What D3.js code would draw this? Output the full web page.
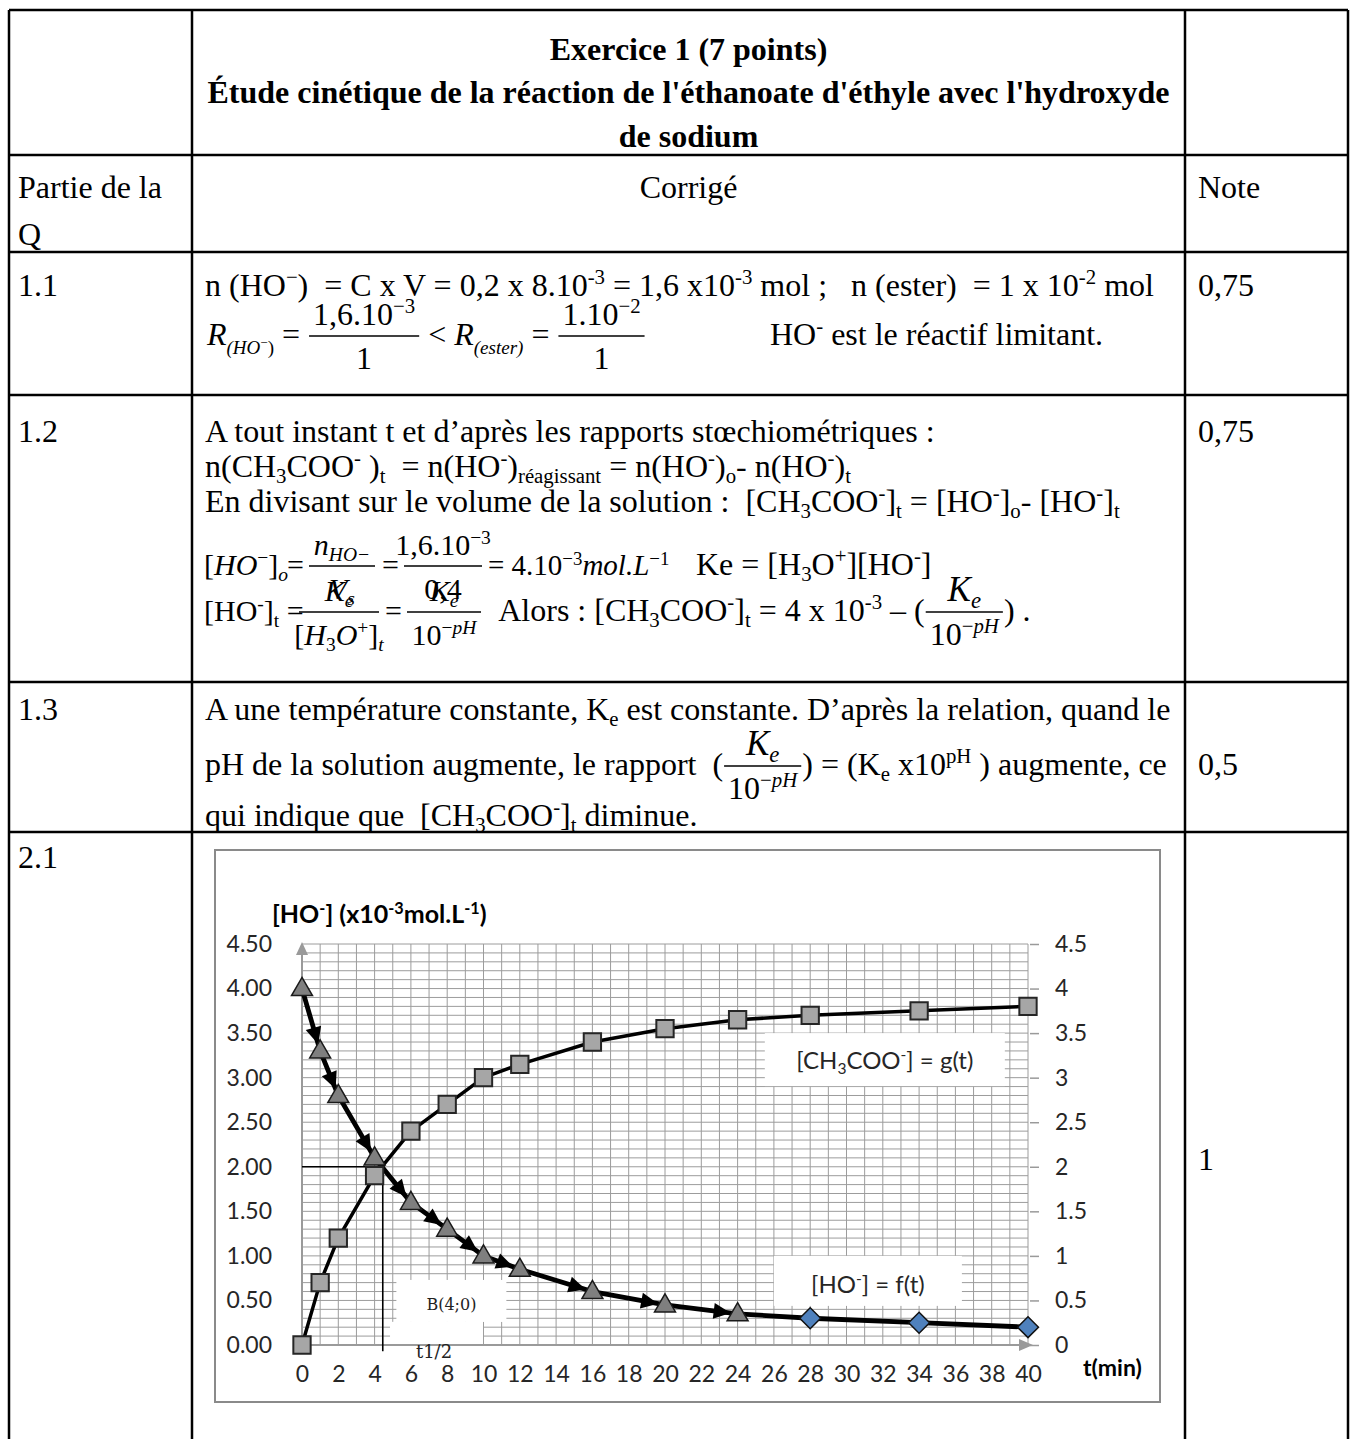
<!DOCTYPE html>
<html><head><meta charset="utf-8">
<script src="https://cdn.jsdelivr.net/npm/d3@7"></script>
<style>body{margin:0;background:#fff}svg{display:block}</style>
</head><body><div id="page"></div>
<script>
// ---------------- data ----------------
const times = [0, 1, 2, 4, 6, 8, 10, 12, 16, 20, 24, 28, 34, 40];
const hoValues = [4, 3.3, 2.8, 2.1, 1.6, 1.3, 1, 0.85, 0.6, 0.45, 0.35, 0.3, 0.25, 0.2];
const acetateValues = [0, 0.7, 1.2, 1.9, 2.4, 2.7, 3, 3.15, 3.4, 3.55, 3.65, 3.7, 3.75, 3.8];
const triangleLastTime = 24;               // HO- points drawn as triangles up to this time, diamonds after
const leftTickLabels = ["0.00","0.50","1.00","1.50","2.00","2.50","3.00","3.50","4.00","4.50"];
const rightTickLabels = ["0","0.5","1","1.5","2","2.5","3","3.5","4","4.5"];
const xTickLabels = ["0","2","4","6","8","10","12","14","16","18","20","22","24","26","28","30","32","34","36","38","40"];
const halfLife = {t: 4.45, c: 2.0};

// ---------------- setup ----------------
const W = 1356, H = 1439;
const SERIF = "'Liberation Serif','Times New Roman',serif";
const SANS = "Lato, Carlito, 'Open Sans', sans-serif";
const FS = 32;
const svg = d3.select('#page').append('svg').attr('width', W).attr('height', H);

// rich text: ^{..} superscript, _{..} subscript, * toggles italic
function rich(parent, x, y, str, o = {}) {
  const fs = o.fs || FS;
  const t = parent.append('text').attr('x', x).attr('y', y)
    .attr('font-family', o.font || SERIF).attr('font-size', fs)
    .attr('font-weight', o.b ? 'bold' : null)
    .attr('text-anchor', o.anchor || 'start').attr('fill', o.fill || '#000')
    .style('white-space', 'pre');
  let cur = 0, ital = !!o.it;
  str.split(/(\^\{[^}]*\}|_\{[^}]*\}|\*)/).filter(s => s.length).forEach(s => {
    if (s === '*') { ital = !ital; return; }
    let kind = 0, txt = s;
    if (s.startsWith('^{')) { kind = -1; txt = s.slice(2, -1); }
    else if (s.startsWith('_{')) { kind = 1; txt = s.slice(2, -1); }
    const target = kind === -1 ? -(o.supUp || 0.36) * fs : kind === 1 ? (o.subDn || 0.2) * fs : 0;
    txt.split('*').forEach((piece, k) => {
      if (k > 0) ital = !ital;
      if (!piece.length) return;
      const sp = t.append('tspan').attr('dy', target - cur).text(piece);
      cur = target;
      if (kind) sp.attr('font-size', fs * 0.65);
      if (ital) sp.attr('font-style', 'italic');
    });
  });
  return t;
}

// equation line layout: text items, fractions, absolute jumps
function eqLine(parent, x0, base, items) {
  let x = x0;
  items.forEach(it => {
    if (it.at !== undefined) { x = it.at; return; }
    if (it.gap) { x += it.gap; return; }
    if (it.frac) {
      const g = parent.append('g');
      const n = rich(g, 0, base - (it.nUp || 20), it.frac[0], {fs: it.nfs || it.fs, anchor: 'middle'});
      const d = rich(g, 0, base + (it.dDn || 24), it.frac[1], {fs: it.dfs || it.fs, anchor: 'middle'});
      const w = it.w || (Math.max(n.node().getComputedTextLength(), d.node().getComputedTextLength()) + 2 * (it.pad || 5));
      const cx = x + w / 2;
      n.attr('x', cx); d.attr('x', cx);
      g.append('line').attr('x1', x + 1).attr('x2', x + w - 1)
        .attr('y1', base - 9).attr('y2', base - 9).attr('stroke', '#000').attr('stroke-width', 1.4);
      x += w;
      return;
    }
    const t = rich(parent, x, base + (it.dy || 0), it.t, it);
    x += t.node().getComputedTextLength();
  });
}

// ---------------- table ----------------
const colX = [9, 192, 1185, 1348];
const rowY = [10, 155, 252, 395, 682, 832];
const tbl = svg.append('g');
colX.forEach(cx => tbl.append('line').attr('x1', cx).attr('x2', cx).attr('y1', rowY[0]).attr('y2', H)
  .attr('stroke', '#000').attr('stroke-width', 2.5));
rowY.forEach(ry => tbl.append('line').attr('x1', colX[0]).attr('x2', colX[3]).attr('y1', ry).attr('y2', ry)
  .attr('stroke', '#000').attr('stroke-width', 2.5));

const tx = svg.append('g');
const midX = (colX[1] + colX[2]) / 2;
rich(tx, midX, 60, 'Exercice 1 (7 points)', {b: true, anchor: 'middle'});
rich(tx, midX, 103, "Étude cinétique de la réaction de l'éthanoate d'éthyle avec l'hydroxyde", {b: true, anchor: 'middle'});
rich(tx, midX, 147, 'de sodium', {b: true, anchor: 'middle'});

rich(tx, 18, 198, 'Partie de la');
rich(tx, 18, 245, 'Q');
rich(tx, midX, 198, 'Corrigé', {anchor: 'middle'});
rich(tx, 1198, 198, 'Note');

// 1.1
rich(tx, 18, 296, '1.1');
rich(tx, 1198, 296, '0,75');
rich(tx, 205, 296, 'n (HO^{−})  = C x V = 0,2 x 8.10^{-3} = 1,6 x10^{-3} mol ;   n (ester)  = 1 x 10^{-2} mol');
eqLine(tx, 207, 345, [
  {t: '*R*'}, {t: '*(HO*', fs: 19, dy: 9}, {t: '−', fs: 13, dy: 2}, {t: ')', fs: 19, dy: 9},
  {t: ' = '}, {frac: ['1,6.10^{−3}', '1']}, {t: ' < '},
  {t: '*R*'}, {t: '*(ester)*', fs: 19, dy: 9}, {t: ' = '}, {frac: ['1.10^{−2}', '1']},
  {at: 770}, {t: 'HO^{-} est le réactif limitant.'}
]);

// 1.2
rich(tx, 18, 442, '1.2');
rich(tx, 1198, 442, '0,75');
rich(tx, 205, 442, 'A tout instant t et d’après les rapports stœchiométriques :');
rich(tx, 205, 477, 'n(CH_{3}COO^{-} )_{t}  = n(HO^{-})_{réagissant} = n(HO^{-})_{o}- n(HO^{-})_{t}');
rich(tx, 205, 512, 'En divisant sur le volume de la solution :  [CH_{3}COO^{-}]_{t} = [HO^{-}]_{o}- [HO^{-}]_{t}');
eqLine(tx, 204, 575, [
  {t: '[*HO*^{−}]_{*o*}', fs: 30}, {at: 287}, {t: '=', fs: 30},
  {at: 308}, {frac: ['*n*_{*HO−*}', '*V*_{*s*}'], fs: 30, w: 68}, {at: 382}, {t: '=', fs: 30},
  {at: 403}, {frac: ['1,6.10^{−3}', '0,4'], fs: 30, w: 80}, {at: 488}, {t: '= 4.10^{−3}*mol.L*^{−1}', fs: 29},
  {at: 696}, {t: 'Ke = [H_{3}O^{+}][HO^{-}]'}
]);
eqLine(tx, 204, 621, [
  {t: '[HO^{-}]_{t} =', fs: 30}, {at: 298}, {frac: ['*K*_{*e*}', '[*H*_{3}*O*^{+}]_{*t*}'], fs: 30, w: 82},
  {at: 385}, {t: '=', fs: 30}, {at: 406}, {frac: ['*K*_{*e*}', '10^{−*pH*}'], fs: 30, w: 76},
  {at: 492}, {t: ' Alors : [CH_{3}COO^{-}]_{t} = 4 x 10^{-3} – ('},
  {frac: ['*K*_{*e*}', '10^{−*pH*}'], nfs: 35}, {t: ') .'}
]);

// 1.3
rich(tx, 18, 720, '1.3');
rich(tx, 1198, 775, '0,5');
rich(tx, 205, 720, 'A une température constante, K_{e} est constante. D’après la relation, quand le');
eqLine(tx, 205, 775, [
  {t: 'pH de la solution augmente, le rapport  ('},
  {frac: ['*K*_{*e*}', '10^{−*pH*}'], nfs: 35}, {t: ') = (K_{e} x10^{pH} ) augmente, ce'}
]);
rich(tx, 205, 826, 'qui indique que  [CH_{3}COO^{-}]_{t} diminue.');

// 2.1
rich(tx, 18, 868, '2.1');
rich(tx, 1198, 1170, '1');

// ---------------- chart ----------------
const ch = svg.append('g');
ch.append('rect').attr('x', 215).attr('y', 850).attr('width', 945).attr('height', 552)
  .attr('fill', '#fff').attr('stroke', '#8a8a8a').attr('stroke-width', 2);

const x = d3.scaleLinear().domain([0, 40]).range([302, 1028]);
const y = d3.scaleLinear().domain([0, 4.5]).range([1345, 944]);

// grid
const grid = ch.append('g').attr('stroke', '#9c9c9c').attr('stroke-width', 1);
grid.selectAll('line.v').data(d3.range(1, 41)).join('line').attr('class', 'v')
  .attr('x1', d => x(d)).attr('x2', d => x(d)).attr('y1', y(0)).attr('y2', y(4.5));
grid.selectAll('line.h').data(d3.range(1, 46).map(i => i / 10)).join('line').attr('class', 'h')
  .attr('x1', x(0)).attr('x2', x(40)).attr('y1', d => y(d)).attr('y2', d => y(d));

// text boxes (white, hide grid)
const boxes = ch.append('g');
boxes.append('rect').attr('x', x(25.5)).attr('y', y(3.5)).attr('width', 240).attr('height', 53).attr('fill', '#fff');
boxes.append('rect').attr('x', x(26)).attr('y', y(1.0)).attr('width', 188).attr('height', 50).attr('fill', '#fff');
boxes.append('rect').attr('x', x(5.2)).attr('y', y(0.73)).attr('width', 110).attr('height', 42).attr('fill', '#fff');
boxes.append('rect').attr('x', x(4.85)).attr('y', y(0.26)).attr('width', 93).attr('height', 40).attr('fill', '#fff');

// axes
const axisCol = '#9a9a9a';
ch.append('line').attr('x1', x(0)).attr('x2', x(0)).attr('y1', y(0)).attr('y2', y(4.5) + 8)
  .attr('stroke', axisCol).attr('stroke-width', 2);
ch.append('path').attr('d', `M${x(0)},${y(4.5) - 2} l-6,13 l12,0 z`).attr('fill', axisCol);
ch.append('line').attr('x1', x(0)).attr('x2', x(40) - 6).attr('y1', y(0)).attr('y2', y(0))
  .attr('stroke', axisCol).attr('stroke-width', 2);
ch.append('path').attr('d', `M${x(40) + 5},${y(0)} l-14,-6 l0,12 z`).attr('fill', axisCol);

const axStyle = g => {
  g.select('.domain').remove();
  g.attr('font-family', SANS).attr('font-size', 23);
  g.selectAll('text').attr('fill', '#262626');
  g.selectAll('.tick line').attr('stroke', axisCol).attr('stroke-width', 1.5);
};
ch.append('g').attr('transform', `translate(${x(0)},0)`)
  .call(d3.axisLeft(y).tickValues(leftTickLabels.map(Number)).tickFormat((d, i) => leftTickLabels[i]).tickSize(0).tickPadding(30))
  .call(axStyle);
ch.append('g').attr('transform', `translate(${x(40) + 2},0)`)
  .call(d3.axisRight(y).tickValues(rightTickLabels.map(Number)).tickFormat((d, i) => rightTickLabels[i]).tickSize(9).tickPadding(16))
  .call(axStyle);
ch.append('g').attr('transform', `translate(0,${y(0)})`)
  .call(d3.axisBottom(x).tickValues(xTickLabels.map(Number)).tickFormat((d, i) => xTickLabels[i]).tickSize(0).tickPadding(21))
  .call(axStyle);

rich(ch, 272, 923, '[HO^{-}] (x10^{-3}mol.L^{-1})', {font: SANS, fs: 25, b: true});
rich(ch, 1083, 1376, 't(min)', {font: SANS, fs: 23, b: true});

// box labels
rich(ch, x(25.5) + 120, y(3.5) + 36, '[CH_{3}COO^{-}] = g(t)', {font: SANS, fs: 24, anchor: 'middle', fill: '#262626'});
rich(ch, x(26) + 94, y(1.0) + 37, '[HO^{-}] = f(t)', {font: SANS, fs: 24, anchor: 'middle', fill: '#262626'});
rich(ch, x(5.2) + 55, y(0.73) + 30, 'B(4;0)', {font: "'DejaVu Serif',serif", fs: 16, anchor: 'middle', fill: '#222'});
rich(ch, x(4.85) + 44, y(0.26) + 36, 't1/2', {font: "'DejaVu Serif',serif", fs: 18, anchor: 'middle', fill: '#222'});

// half-life construction lines
ch.append('line').attr('x1', x(0)).attr('x2', x(halfLife.t)).attr('y1', y(halfLife.c)).attr('y2', y(halfLife.c))
  .attr('stroke', '#000').attr('stroke-width', 1.6);
ch.append('line').attr('x1', x(halfLife.t)).attr('x2', x(halfLife.t)).attr('y1', y(halfLife.c)).attr('y2', y(-0.07))
  .attr('stroke', '#000').attr('stroke-width', 1.6);

// series
const acetPts = times.map((t, i) => [x(t), y(acetateValues[i])]);
const hoPts = times.map((t, i) => [x(t), y(hoValues[i])]);
ch.append('path').attr('d', d3.line()(acetPts)).attr('fill', 'none').attr('stroke', '#000')
  .attr('stroke-width', 3.5).attr('stroke-linejoin', 'round');
ch.append('path').attr('d', d3.line()(hoPts)).attr('fill', 'none').attr('stroke', '#000')
  .attr('stroke-width', 4.8).attr('stroke-linejoin', 'round');

// arrowheads on HO- segments ending at triangle points
const arrows = [];
for (let i = 1; i < times.length; i++) {
  if (times[i] > triangleLastTime) break;
  const [x0, y0] = hoPts[i - 1], [x1, y1] = hoPts[i];
  const L = Math.hypot(x1 - x0, y1 - y0), ux = (x1 - x0) / L, uy = (y1 - y0) / L;
  const tipX = x1 - ux * 7, tipY = y1 - uy * 7, bx = tipX - ux * 17, by = tipY - uy * 17;
  arrows.push(`M${tipX},${tipY} L${bx - uy * 8},${by + ux * 8} L${bx + uy * 8},${by - ux * 8} Z`);
}
ch.selectAll('path.arr').data(arrows).join('path').attr('class', 'arr').attr('d', d => d).attr('fill', '#000');

const tri = d3.symbol().type(d3.symbolTriangle).size(190)();
const sq = d3.symbol().type(d3.symbolSquare).size(300)();
const dia = d3.symbol().type(d3.symbolSquare).size(220)();
const hoData = times.map((t, i) => ({t, v: hoValues[i]}));
ch.selectAll('path.tri').data(hoData.filter(d => d.t <= triangleLastTime)).join('path').attr('class', 'tri')
  .attr('d', tri).attr('transform', d => `translate(${x(d.t)},${y(d.v) + 1})`)
  .attr('fill', '#7f7f7f').attr('stroke', '#1a1a1a').attr('stroke-width', 1.5);
ch.selectAll('path.dia').data(hoData.filter(d => d.t > triangleLastTime)).join('path').attr('class', 'dia')
  .attr('d', dia).attr('transform', d => `translate(${x(d.t)},${y(d.v)}) rotate(45)`)
  .attr('fill', '#4f81bd').attr('stroke', '#111').attr('stroke-width', 1.5);
ch.selectAll('path.sq').data(times.map((t, i) => ({t, v: acetateValues[i]}))).join('path').attr('class', 'sq')
  .attr('d', sq).attr('transform', d => `translate(${x(d.t)},${y(d.v)})`)
  .attr('fill', '#a6a6a6').attr('stroke', '#262626').attr('stroke-width', 2);
</script>
</body></html>
